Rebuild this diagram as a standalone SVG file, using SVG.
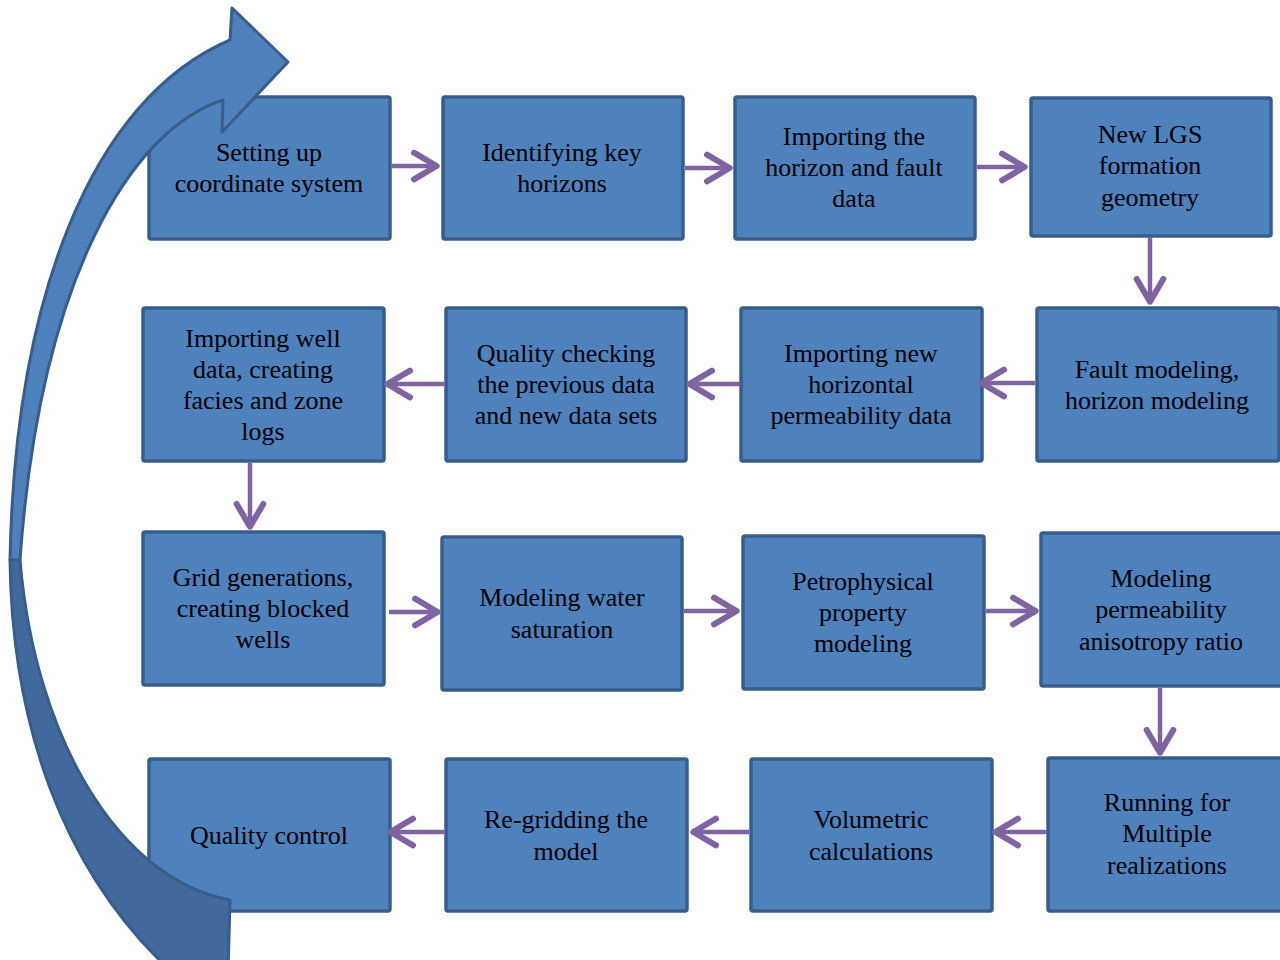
<svg xmlns="http://www.w3.org/2000/svg" width="1280" height="960" viewBox="0 0 1280 960">
<defs>
<style>
.box{fill:#4F81BD;stroke:#385D8A;stroke-width:3.5}
.lbl{font-family:"Liberation Serif","Times New Roman",serif;font-size:26px;fill:#000;text-anchor:middle}
.con{stroke:#8064A2;stroke-width:4.5;fill:none;marker-end:url(#arr)}
</style>
<marker id="arr" markerUnits="userSpaceOnUse" markerWidth="40" markerHeight="40" viewBox="-25 -15 30 30" refX="0" refY="0" orient="auto" overflow="visible">
<path d="M-18,-10 L-1,0 L-18,10" fill="none" stroke="#8064A2" stroke-width="4.5" stroke-linecap="round" stroke-linejoin="round"/>
</marker>
</defs>
<rect width="1280" height="960" fill="#FFFFFF"/>

<g id="n1"><rect class="box" x="149" y="97" width="241" height="142" rx="2"/><text class="lbl"><tspan x="269" y="161">Setting up</tspan><tspan x="269" y="192">coordinate system</tspan></text></g>
<g id="n2"><rect class="box" x="443" y="97" width="240" height="142" rx="2"/><text class="lbl"><tspan x="562" y="161">Identifying key</tspan><tspan x="562" y="192">horizons</tspan></text></g>
<g id="n3"><rect class="box" x="735" y="97" width="240" height="142" rx="2"/><text class="lbl"><tspan x="854" y="145">Importing the</tspan><tspan x="854" y="176">horizon and fault</tspan><tspan x="854" y="207">data</tspan></text></g>
<g id="n4"><rect class="box" x="1031" y="98" width="240" height="138" rx="2"/><text class="lbl"><tspan x="1150" y="143">New LGS</tspan><tspan x="1150" y="174">formation</tspan><tspan x="1150" y="206">geometry</tspan></text></g>

<g id="n5"><rect class="box" x="143" y="308" width="241" height="153" rx="2"/><text class="lbl"><tspan x="263" y="347">Importing well</tspan><tspan x="263" y="378">data, creating</tspan><tspan x="263" y="409">facies and zone</tspan><tspan x="263" y="440">logs</tspan></text></g>
<g id="n6"><rect class="box" x="446" y="308" width="240" height="153" rx="2"/><text class="lbl"><tspan x="566" y="362">Quality checking</tspan><tspan x="566" y="393">the previous data</tspan><tspan x="566" y="424">and new data sets</tspan></text></g>
<g id="n7"><rect class="box" x="741" y="308" width="241" height="153" rx="2"/><text class="lbl"><tspan x="861" y="362">Importing new</tspan><tspan x="861" y="393">horizontal</tspan><tspan x="861" y="424">permeability data</tspan></text></g>
<g id="n8"><rect class="box" x="1037" y="308" width="242" height="153" rx="2"/><text class="lbl"><tspan x="1157" y="378">Fault modeling,</tspan><tspan x="1157" y="409">horizon modeling</tspan></text></g>

<g id="n9"><rect class="box" x="143" y="532" width="241" height="153" rx="2"/><text class="lbl"><tspan x="263" y="586">Grid generations,</tspan><tspan x="263" y="617">creating blocked</tspan><tspan x="263" y="648">wells</tspan></text></g>
<g id="n10"><rect class="box" x="442" y="537" width="240" height="153" rx="2"/><text class="lbl"><tspan x="562" y="606">Modeling water</tspan><tspan x="562" y="638">saturation</tspan></text></g>
<g id="n11"><rect class="box" x="743" y="536" width="241" height="153" rx="2"/><text class="lbl"><tspan x="863" y="590">Petrophysical</tspan><tspan x="863" y="621">property</tspan><tspan x="863" y="652">modeling</tspan></text></g>
<g id="n12"><rect class="box" x="1041" y="533" width="244" height="153" rx="2"/><text class="lbl"><tspan x="1161" y="587">Modeling</tspan><tspan x="1161" y="618">permeability</tspan><tspan x="1161" y="650">anisotropy ratio</tspan></text></g>

<g id="n13"><rect class="box" x="149" y="759" width="241" height="152" rx="2"/><text class="lbl"><tspan x="269" y="844">Quality control</tspan></text></g>
<g id="n14"><rect class="box" x="446" y="759" width="241" height="152" rx="2"/><text class="lbl"><tspan x="566" y="828">Re-gridding the</tspan><tspan x="566" y="860">model</tspan></text></g>
<g id="n15"><rect class="box" x="751" y="759" width="241" height="152" rx="2"/><text class="lbl"><tspan x="871" y="828">Volumetric</tspan><tspan x="871" y="860">calculations</tspan></text></g>
<g id="n16"><rect class="box" x="1048" y="758" width="240" height="153" rx="2"/><text class="lbl"><tspan x="1167" y="811">Running for</tspan><tspan x="1167" y="842">Multiple</tspan><tspan x="1167" y="874">realizations</tspan></text></g>

<g id="connectors">
<line class="con" x1="391" y1="166" x2="438" y2="166"/>
<line class="con" x1="685" y1="168" x2="731" y2="168"/>
<line class="con" x1="977" y1="167" x2="1026" y2="167"/>
<line class="con" x1="1150" y1="237" x2="1150" y2="303"/>
<line class="con" x1="1035" y1="383" x2="980" y2="383"/>
<line class="con" x1="740" y1="384" x2="688" y2="384"/>
<line class="con" x1="444" y1="384" x2="386" y2="384"/>
<line class="con" x1="250" y1="463" x2="250" y2="528"/>
<line class="con" x1="389" y1="612" x2="439" y2="612"/>
<line class="con" x1="684" y1="611" x2="738" y2="611"/>
<line class="con" x1="986" y1="611" x2="1037" y2="611"/>
<line class="con" x1="1160" y1="688" x2="1160" y2="754"/>
<line class="con" x1="1046" y1="832" x2="994" y2="832"/>
<line class="con" x1="749" y1="832" x2="692" y2="832"/>
<line class="con" x1="444" y1="832" x2="389" y2="832"/>
</g>

<g id="loop-arrow" stroke="#385D8A" stroke-width="3" stroke-linejoin="round">
<path d="M10,560 C12,720 60,870 175,975 L228,975 L230,900 C120,880 35,740 20,560 Z" fill="#41699B"/>
<path d="M230,40 L232,8 L288,62 L222,132 L223,100 C130,130 40,280 20,560 L10,560 C15,300 90,100 230,40 Z" fill="#4F81BD"/>
</g>
</svg>
